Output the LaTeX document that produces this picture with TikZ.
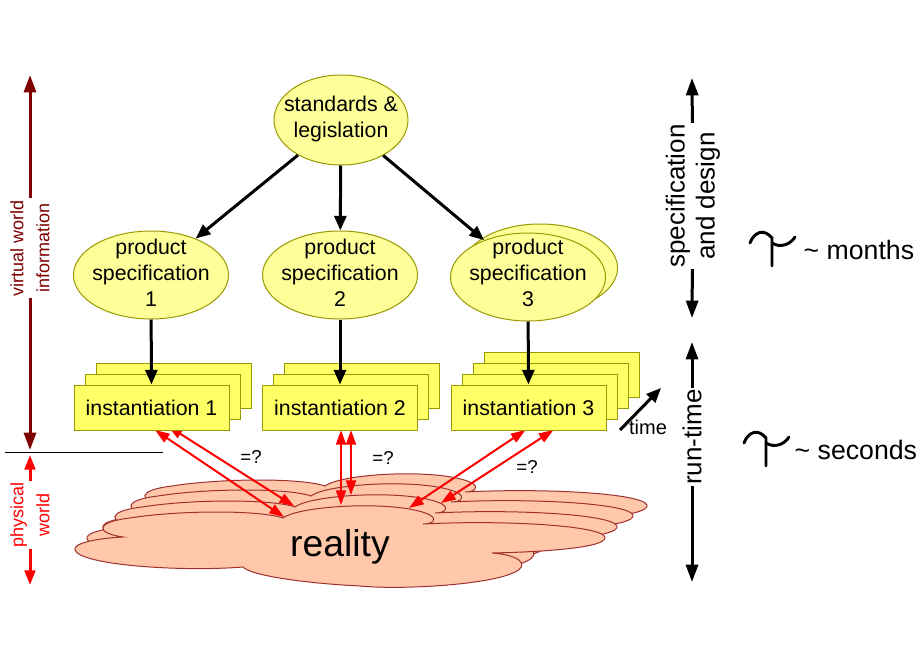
\documentclass[tikz,border=0pt]{standalone}
\usepackage{fontspec}
\setmainfont{Liberation Sans}
\usetikzlibrary{arrows.meta,shapes.geometric,calc}
\definecolor{vwred}{HTML}{7F0000}
\definecolor{ellfill}{HTML}{FFFF99}
\definecolor{boxfill}{HTML}{FFFF66}
\definecolor{olivec}{HTML}{999900}
\definecolor{cloudfill}{HTML}{FFC8AA}
\definecolor{cloudline}{HTML}{A03030}
\begin{document}
\begin{tikzpicture}[x=0.75pt,y=-0.75pt,
  font=\fontsize{16}{19.5}\selectfont,
  ell/.style={ellipse, draw=olivec, fill=ellfill, line width=0.75pt, inner sep=0pt,
    minimum width=116.25pt, minimum height=66pt},
  stdell/.style={ell, minimum width=100.5pt, minimum height=67.5pt},
  elltext/.style={align=center, inner sep=0pt},
  inst/.style={rectangle, draw=olivec, fill=boxfill, line width=0.75pt, inner sep=0pt,
    minimum width=116.25pt, minimum height=33.75pt},
  blk/.style={line width=2.25pt, -{Triangle[length=11pt,width=9pt]}},
  redarr/.style={red, line width=1.5pt, {Triangle[length=11pt,width=7.5pt]}-{Triangle[length=11pt,width=7.5pt]}},
  sidearr/.style={line width=2.25pt, -{Triangle[length=13pt,width=9pt]}},
  cloudsty/.style={fill=cloudfill, draw=cloudline, line width=0.75pt},
  sidelab/.style={rotate=90, fill=white, align=center, inner sep=1pt},
]
\useasboundingbox (0,0) rectangle (920,660);

% ---------- cloud (reality) ----------
\foreach \dx/\dy in {42/-32, 28/-22, 12/-11, 0/0} {
  \begin{scope}[shift={(\dx,\dy)}]
    \path[cloudsty] (243,567) .. controls (180,572) and (80,565) .. (75,550)
      .. controls (72,543) and (100,538) .. (123,537)
      .. controls (95,533) and (95,522) .. (130,518)
      .. controls (180,510) and (260,510) .. (283,518)
      .. controls (300,505) and (400,500) .. (430,515)
      .. controls (438,520) and (432,524) .. (423,524)
      .. controls (500,520) and (600,525) .. (605,537)
      .. controls (608,548) and (540,552) .. (492,553)
      .. controls (520,555) and (530,565) .. (515,572)
      .. controls (490,585) and (400,590) .. (360,586)
      .. controls (300,583) and (250,575) .. (243,567) -- cycle;
  \end{scope}
}
\node[font=\fontsize{28}{32}\selectfont] (real) at (340,547) {reality};

% ---------- ellipses ----------
\node[stdell] (std) at (341,120) {};
\node[elltext] (stdt) at (341,119) {standards \&\\legislation};
\node[ell] (spec1) at (151,275) {};
\node[elltext] (spec1t) at (151,273) {product\\specification\\1};
\node[ell] (spec2) at (340,275) {};
\node[elltext] (spec2t) at (340,273) {product\\specification\\2};
\node[ell] (spec3b) at (540,268) {};
\node[ell] (spec3) at (528,277) {};
\node[elltext] (spec3t) at (528,273) {product\\specification\\3};

% ---------- box positions (for red arrow ends) ----------
\coordinate (i1) at (151.5,407.5);
\coordinate (i2) at (340,407.5);
\coordinate (i3) at (528.5,407.5);

% ---------- red arrows ----------
\coordinate (r1a) at (284,517);
\coordinate (r1b) at (294,506);
\coordinate (r2a) at (341,505);
\coordinate (r2b) at (351,495);
\coordinate (r3a) at (409,508);
\coordinate (r3b) at (441,503);
\coordinate (t1a) at (155,430);
\coordinate (t1b) at (168,426);
\coordinate (t2a) at (341,430);
\coordinate (t2b) at (351,430);
\coordinate (t3a) at (525.5,430);
\coordinate (t3b) at (553.5,430);
\draw[redarr] (t1a) -- (r1a);
\draw[redarr] (t1b) -- (r1b);
\draw[redarr] (t2a) -- (r2a);
\draw[redarr] (t2b) -- (r2b);
\draw[redarr] (t3a) -- (r3a);
\draw[redarr] (t3b) -- (r3b);

% ---------- instantiation boxes ----------
\node[inst] (inst1c) at ($(i1)+(22,-22)$) {};
\node[inst] (inst1b) at ($(i1)+(11,-11)$) {};
\node[inst] (inst1) at (i1) {instantiation 1};
\node[inst] (inst2c) at ($(i2)+(22,-22)$) {};
\node[inst] (inst2b) at ($(i2)+(11,-11)$) {};
\node[inst] (inst2) at (i2) {instantiation 2};
\node[inst] (inst3d) at ($(i3)+(33,-33)$) {};
\node[inst] (inst3c) at ($(i3)+(22,-22)$) {};
\node[inst] (inst3b) at ($(i3)+(11,-11)$) {};
\node[inst] (inst3) at (i3) {instantiation 3};

% ---------- black arrows ----------
\draw[blk] (std) -- (spec1);
\draw[blk] (std) -- (spec2);
\draw[blk] (std) -- (spec3);
\draw[blk] (spec1) -- (inst1);
\draw[blk] (spec2) -- (inst2);
\draw[blk] (spec3) -- (inst3);

% ---------- =? labels ----------
\node[font=\fontsize{14}{16}\selectfont] (eq1) at (251,457) {=?};
\node[font=\fontsize{14}{16}\selectfont] (eq2) at (383,458) {=?};
\node[font=\fontsize{14}{16}\selectfont] (eq3) at (527,467) {=?};

% ---------- time arrow ----------
\coordinate (tm0) at (620,430);
\coordinate (tm1) at (661,388);
\draw[blk] (tm0) -- (tm1);
\node[font=\fontsize{15}{17}\selectfont] (tlab) at (648,427) {time};

% ---------- separator line ----------
\coordinate (h0) at (5,452);
\coordinate (h1) at (163,452);
\draw[line width=0.75pt] (h0) -- (h1);

% ---------- left side arrows ----------
\coordinate (vtop) at (30,75);
\coordinate (vbot) at (30,450);
\node[sidelab, text=vwred, font=\fontsize{13.5}{19.5}\selectfont] (vlab) at (30,248) {virtual world\\information};
\draw[sidearr, vwred] (vlab) -- (vtop);
\draw[sidearr, vwred] (vlab) -- (vbot);

\coordinate (ptop) at (30,455);
\coordinate (pbot) at (30,585);
\node[sidelab, text=red, font=\fontsize{13.5}{19.5}\selectfont] (plab) at (30,515) {physical\\world};
\draw[sidearr, red, -{Triangle[length=11pt,width=8pt]}] (plab) -- (ptop);
\draw[sidearr, red, -{Triangle[length=11pt,width=8pt]}] (plab) -- (pbot);

% ---------- right side arrows ----------
\coordinate (stop) at (692,78);
\coordinate (sbot) at (692,318);
\node[sidelab, font=\fontsize{19.5}{22.5}\selectfont] (slab) at (693,196) {specification\\and design};
\draw[sidearr] (slab) -- (stop);
\draw[sidearr] (slab) -- (sbot);

\coordinate (rtop) at (692,342);
\coordinate (rbot) at (692,582);
\node[sidelab, font=\fontsize{19.5}{22.5}\selectfont] (rlab) at (692,437) {run-time};
\draw[sidearr] (rlab) -- (rtop);
\draw[sidearr] (rlab) -- (rbot);

% ---------- tau symbols ----------
\begin{scope}[line width=2.2pt, line cap=round]
  \draw (750,243) .. controls (754,232) and (764,228) .. (772,238) -- (772,266);
  \draw (772,243) .. controls (780,248) and (790,245) .. (795,237);
  \draw (744,443) .. controls (748,432) and (758,428) .. (766,438) -- (766,466);
  \draw (766,443) .. controls (774,448) and (784,445) .. (789,437);
\end{scope}
\node[anchor=west, font=\fontsize{20}{24}\selectfont] (months) at (799,250) {\textasciitilde\ months};
\node[anchor=west, font=\fontsize{20}{24}\selectfont] (seconds) at (790,450) {\textasciitilde\ seconds};
\end{tikzpicture}
\end{document}
